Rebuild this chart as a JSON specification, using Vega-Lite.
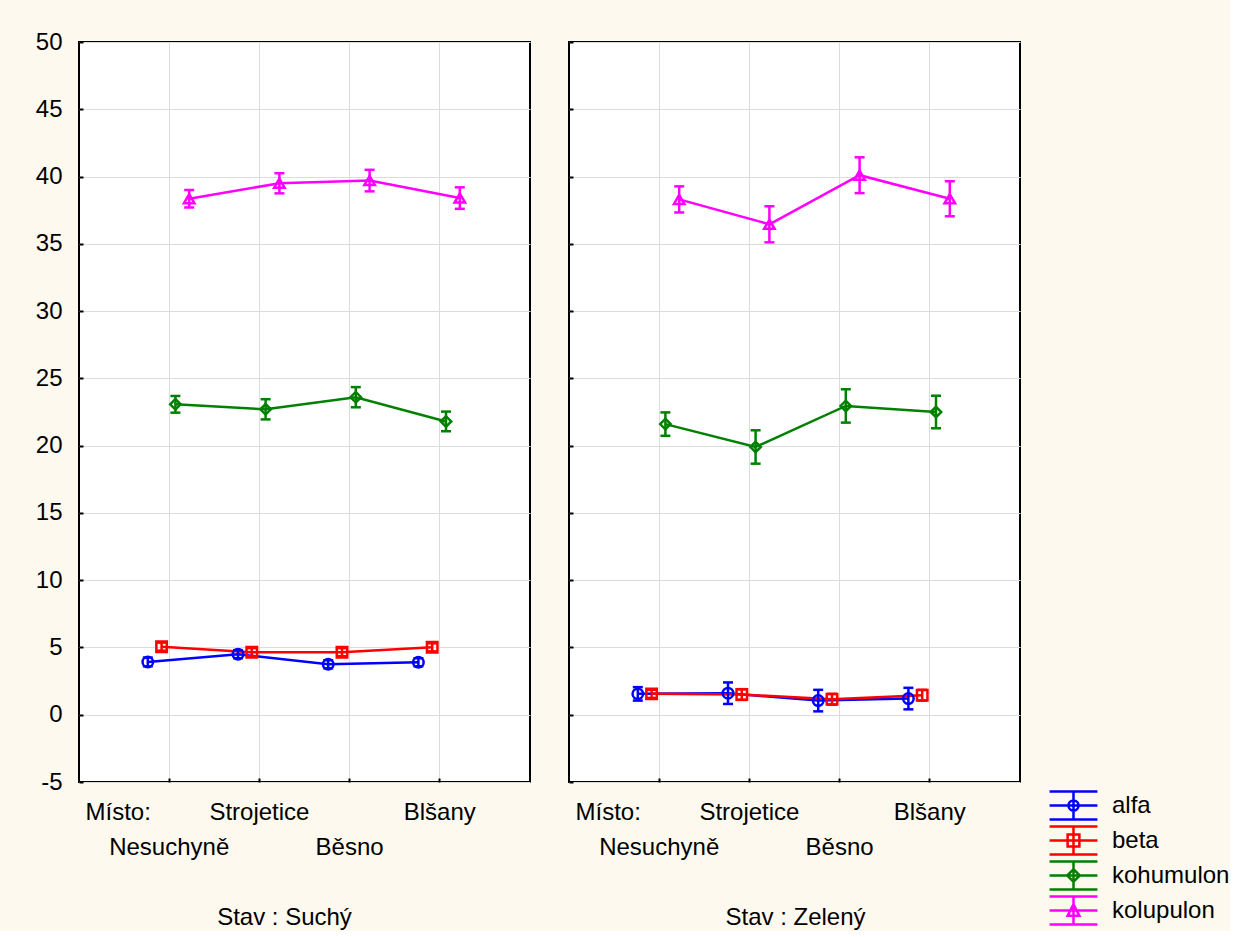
{
  "$schema": "https://vega.github.io/schema/vega-lite/v6.json",
  "background": "#FDF9EF",
  "padding": {"left": 34, "top": 29, "right": 0, "bottom": 0},
  "config": {
    "font": "Liberation Sans",
    "view": {"fill": "white", "stroke": "black", "strokeWidth": 2},
    "axis": {"labelFont": "Liberation Sans", "labelFontSize": 24, "labelColor": "black", "gridColor": "#DCDCDC", "gridWidth": 1, "domain": false, "tickColor": "black", "tickSize": -4, "tickWidth": 2, "titleFont": "Liberation Sans", "titleFontSize": 24, "titleFontWeight": "normal", "titleColor": "black"}
  },
  "data": {"values": [
    {"Stav": "Suchý", "Misto": "Nesuchyně", "Series": "alfa", "mean": 3.92, "lo": 3.6, "hi": 4.25},
    {"Stav": "Suchý", "Misto": "Strojetice", "Series": "alfa", "mean": 4.5, "lo": 4.2, "hi": 4.8},
    {"Stav": "Suchý", "Misto": "Běsno", "Series": "alfa", "mean": 3.75, "lo": 3.45, "hi": 4.05},
    {"Stav": "Suchý", "Misto": "Blšany", "Series": "alfa", "mean": 3.9, "lo": 3.6, "hi": 4.2},
    {"Stav": "Suchý", "Misto": "Nesuchyně", "Series": "beta", "mean": 5.06, "lo": 4.76, "hi": 5.36},
    {"Stav": "Suchý", "Misto": "Strojetice", "Series": "beta", "mean": 4.65, "lo": 4.35, "hi": 4.95},
    {"Stav": "Suchý", "Misto": "Běsno", "Series": "beta", "mean": 4.65, "lo": 4.35, "hi": 4.95},
    {"Stav": "Suchý", "Misto": "Blšany", "Series": "beta", "mean": 5.01, "lo": 4.71, "hi": 5.31},
    {"Stav": "Suchý", "Misto": "Nesuchyně", "Series": "kohumulon", "mean": 23.07, "lo": 22.45, "hi": 23.69},
    {"Stav": "Suchý", "Misto": "Strojetice", "Series": "kohumulon", "mean": 22.7, "lo": 21.95, "hi": 23.45},
    {"Stav": "Suchý", "Misto": "Běsno", "Series": "kohumulon", "mean": 23.6, "lo": 22.85, "hi": 24.35},
    {"Stav": "Suchý", "Misto": "Blšany", "Series": "kohumulon", "mean": 21.8, "lo": 21.07, "hi": 22.53},
    {"Stav": "Suchý", "Misto": "Nesuchyně", "Series": "kolupulon", "mean": 38.35, "lo": 37.7, "hi": 39.0},
    {"Stav": "Suchý", "Misto": "Strojetice", "Series": "kolupulon", "mean": 39.5, "lo": 38.75, "hi": 40.25},
    {"Stav": "Suchý", "Misto": "Běsno", "Series": "kolupulon", "mean": 39.7, "lo": 38.9, "hi": 40.5},
    {"Stav": "Suchý", "Misto": "Blšany", "Series": "kolupulon", "mean": 38.4, "lo": 37.6, "hi": 39.2},
    {"Stav": "Zelený", "Misto": "Nesuchyně", "Series": "alfa", "mean": 1.55, "lo": 1.05, "hi": 2.05},
    {"Stav": "Zelený", "Misto": "Strojetice", "Series": "alfa", "mean": 1.6, "lo": 0.8, "hi": 2.4},
    {"Stav": "Zelený", "Misto": "Běsno", "Series": "alfa", "mean": 1.05, "lo": 0.25, "hi": 1.85},
    {"Stav": "Zelený", "Misto": "Blšany", "Series": "alfa", "mean": 1.2, "lo": 0.4, "hi": 2.0},
    {"Stav": "Zelený", "Misto": "Nesuchyně", "Series": "beta", "mean": 1.55, "lo": 1.25, "hi": 1.85},
    {"Stav": "Zelený", "Misto": "Strojetice", "Series": "beta", "mean": 1.5, "lo": 1.1, "hi": 1.9},
    {"Stav": "Zelený", "Misto": "Běsno", "Series": "beta", "mean": 1.15, "lo": 0.75, "hi": 1.55},
    {"Stav": "Zelený", "Misto": "Blšany", "Series": "beta", "mean": 1.45, "lo": 1.05, "hi": 1.85},
    {"Stav": "Zelený", "Misto": "Nesuchyně", "Series": "kohumulon", "mean": 21.6, "lo": 20.73, "hi": 22.47},
    {"Stav": "Zelený", "Misto": "Strojetice", "Series": "kohumulon", "mean": 19.9, "lo": 18.66, "hi": 21.14},
    {"Stav": "Zelený", "Misto": "Běsno", "Series": "kohumulon", "mean": 22.95, "lo": 21.71, "hi": 24.19},
    {"Stav": "Zelený", "Misto": "Blšany", "Series": "kohumulon", "mean": 22.5, "lo": 21.29, "hi": 23.71},
    {"Stav": "Zelený", "Misto": "Nesuchyně", "Series": "kolupulon", "mean": 38.3, "lo": 37.33, "hi": 39.27},
    {"Stav": "Zelený", "Misto": "Strojetice", "Series": "kolupulon", "mean": 36.45, "lo": 35.11, "hi": 37.79},
    {"Stav": "Zelený", "Misto": "Běsno", "Series": "kolupulon", "mean": 40.1, "lo": 38.77, "hi": 41.43},
    {"Stav": "Zelený", "Misto": "Blšany", "Series": "kolupulon", "mean": 38.35, "lo": 37.05, "hi": 39.65}
  ]},
  "spacing": 36,
  "resolve": {"scale": {"color": "shared"}},
  "hconcat": [
    {
      "width": 451, "height": 740,
      "title": {"text": "Stav : Suchý", "orient": "bottom", "anchor": "middle", "fontSize": 24, "fontWeight": "normal", "font": "Liberation Sans", "color": "black", "offset": 47, "dx": -20},
      "transform": [{"filter": "datum.Stav === 'Suchý'"}],
      "encoding": {
        "x": {"field": "Misto", "type": "nominal", "sort": ["Nesuchyně", "Strojetice", "Běsno", "Blšany"], "scale": {"type": "band", "paddingInner": 0, "paddingOuter": 0.5},
          "axis": {"title": "Místo:", "titleAnchor": "start", "titleAlign": "left", "titleBaseline": "top", "titleX": 6, "titleY": 18, "labelAngle": 0, "labelBaseline": "top", "labelPadding": 22, "labelLineHeight": 35, "bandPosition": 0.5, "grid": true, "labelExpr": "datum.value === 'Nesuchyně' || datum.value === 'Běsno' ? ['', datum.value] : datum.value"}},
        "xOffset": {"field": "Series", "type": "nominal", "sort": ["alfa", "beta", "kohumulon", "kolupulon"], "scale": {"type": "band", "range": [16.8, 72], "paddingInner": 0, "paddingOuter": 0}},
        "color": {"field": "Series", "type": "nominal", "scale": {"domain": ["alfa", "beta", "kohumulon", "kolupulon"], "range": ["#0000FF", "#FF0000", "#008000", "#FF00FF"]},
          "legend": {"orient": "none", "legendX": 979, "legendY": 748, "title": null, "symbolSize": 784, "symbolStrokeWidth": 2.5, "labelFontSize": 24, "labelFont": "Liberation Sans", "labelColor": "black", "labelOffset": 23, "rowPadding": -5,
            "encode": {"symbols": {"update": {
              "shape": {"signal": "datum.value === 'alfa' ? 'M-1.71,-1H1.71M-1.71,0H1.71M-1.71,1H1.71M0,-1V1M0.36,0A0.36,0.36,0,1,1,-0.36,0A0.36,0.36,0,1,1,0.36,0Z' : datum.value === 'beta' ? 'M-1.71,-1H1.71M-1.71,0H1.71M-1.71,1H1.71M0,-1V1M-0.42,-0.42H0.42V0.42H-0.42Z' : datum.value === 'kohumulon' ? 'M-1.71,-1H1.71M-1.71,0H1.71M-1.71,1H1.71M0,-1V1M0,-0.45L0.45,0L0,0.45L-0.45,0Z' : 'M-1.71,-1H1.71M-1.71,0H1.71M-1.71,1H1.71M0,-1V1M0,-0.45L0.42,0.38H-0.42Z'"},
              "fill": {"value": "transparent"},
              "strokeWidth": {"value": 2.5},
              "opacity": {"value": 1}
            }}}}}
      },
      "layer": [
        {"mark": {"type": "line", "strokeWidth": 2.5}, "encoding": {
          "y": {"field": "mean", "type": "quantitative", "scale": {"domain": [-5, 50], "nice": false, "zero": false}, "axis": {"title": null, "values": [-5, 0, 5, 10, 15, 20, 25, 30, 35, 40, 45, 50], "labelExpr": "'' + datum.value", "labelPadding": 21, "grid": true}}}},
        {"mark": {"type": "rule", "strokeWidth": 2.5}, "encoding": {"y": {"field": "lo", "type": "quantitative"}, "y2": {"field": "hi"}}},
        {"mark": {"type": "point", "shape": "stroke", "filled": false, "strokeWidth": 2.5, "size": 100, "opacity": 1}, "encoding": {"y": {"field": "lo", "type": "quantitative"}}},
        {"mark": {"type": "point", "shape": "stroke", "filled": false, "strokeWidth": 2.5, "size": 100, "opacity": 1}, "encoding": {"y": {"field": "hi", "type": "quantitative"}}},
        {"transform": [{"filter": "datum.Series === 'alfa'"}], "mark": {"type": "point", "shape": "circle", "filled": false, "strokeWidth": 2.5, "size": 110, "opacity": 1}, "encoding": {"y": {"field": "mean", "type": "quantitative"}}},
        {"transform": [{"filter": "datum.Series === 'beta'"}], "mark": {"type": "point", "shape": "square", "filled": false, "strokeWidth": 2.5, "size": 110, "opacity": 1}, "encoding": {"y": {"field": "mean", "type": "quantitative"}}},
        {"transform": [{"filter": "datum.Series === 'kohumulon'"}], "mark": {"type": "point", "shape": "diamond", "filled": false, "strokeWidth": 2.5, "size": 110, "opacity": 1}, "encoding": {"y": {"field": "mean", "type": "quantitative"}}},
        {"transform": [{"filter": "datum.Series === 'kolupulon'"}], "mark": {"type": "point", "shape": "triangle-up", "filled": false, "strokeWidth": 2.5, "size": 110, "opacity": 1}, "encoding": {"y": {"field": "mean", "type": "quantitative"}}}
      ]
    },
    {
      "width": 451, "height": 740,
      "title": {"text": "Stav : Zelený", "orient": "bottom", "anchor": "middle", "fontSize": 24, "fontWeight": "normal", "font": "Liberation Sans", "color": "black", "offset": 47, "dx": 1},
      "transform": [{"filter": "datum.Stav === 'Zelený'"}],
      "encoding": {
        "x": {"field": "Misto", "type": "nominal", "sort": ["Nesuchyně", "Strojetice", "Běsno", "Blšany"], "scale": {"type": "band", "paddingInner": 0, "paddingOuter": 0.5},
          "axis": {"title": "Místo:", "titleAnchor": "start", "titleAlign": "left", "titleBaseline": "top", "titleX": 6, "titleY": 18, "labelAngle": 0, "labelBaseline": "top", "labelPadding": 22, "labelLineHeight": 35, "bandPosition": 0.5, "grid": true, "labelExpr": "datum.value === 'Nesuchyně' || datum.value === 'Běsno' ? ['', datum.value] : datum.value"}},
        "xOffset": {"field": "Series", "type": "nominal", "sort": ["alfa", "beta", "kohumulon", "kolupulon"], "scale": {"type": "band", "range": [16.8, 72], "paddingInner": 0, "paddingOuter": 0}},
        "color": {"field": "Series", "type": "nominal"}
      },
      "layer": [
        {"mark": {"type": "line", "strokeWidth": 2.5}, "encoding": {"y": {"field": "mean", "type": "quantitative", "scale": {"domain": [-5, 50], "nice": false, "zero": false}, "axis": {"title": null, "values": [-5, 0, 5, 10, 15, 20, 25, 30, 35, 40, 45, 50], "labels": false, "grid": true}}}},
        {"mark": {"type": "rule", "strokeWidth": 2.5}, "encoding": {"y": {"field": "lo", "type": "quantitative"}, "y2": {"field": "hi"}}},
        {"mark": {"type": "point", "shape": "stroke", "filled": false, "strokeWidth": 2.5, "size": 100, "opacity": 1}, "encoding": {"y": {"field": "lo", "type": "quantitative"}}},
        {"mark": {"type": "point", "shape": "stroke", "filled": false, "strokeWidth": 2.5, "size": 100, "opacity": 1}, "encoding": {"y": {"field": "hi", "type": "quantitative"}}},
        {"transform": [{"filter": "datum.Series === 'alfa'"}], "mark": {"type": "point", "shape": "circle", "filled": false, "strokeWidth": 2.5, "size": 110, "opacity": 1}, "encoding": {"y": {"field": "mean", "type": "quantitative"}}},
        {"transform": [{"filter": "datum.Series === 'beta'"}], "mark": {"type": "point", "shape": "square", "filled": false, "strokeWidth": 2.5, "size": 110, "opacity": 1}, "encoding": {"y": {"field": "mean", "type": "quantitative"}}},
        {"transform": [{"filter": "datum.Series === 'kohumulon'"}], "mark": {"type": "point", "shape": "diamond", "filled": false, "strokeWidth": 2.5, "size": 110, "opacity": 1}, "encoding": {"y": {"field": "mean", "type": "quantitative"}}},
        {"transform": [{"filter": "datum.Series === 'kolupulon'"}], "mark": {"type": "point", "shape": "triangle-up", "filled": false, "strokeWidth": 2.5, "size": 110, "opacity": 1}, "encoding": {"y": {"field": "mean", "type": "quantitative"}}}
      ]
    }
  ]
}
